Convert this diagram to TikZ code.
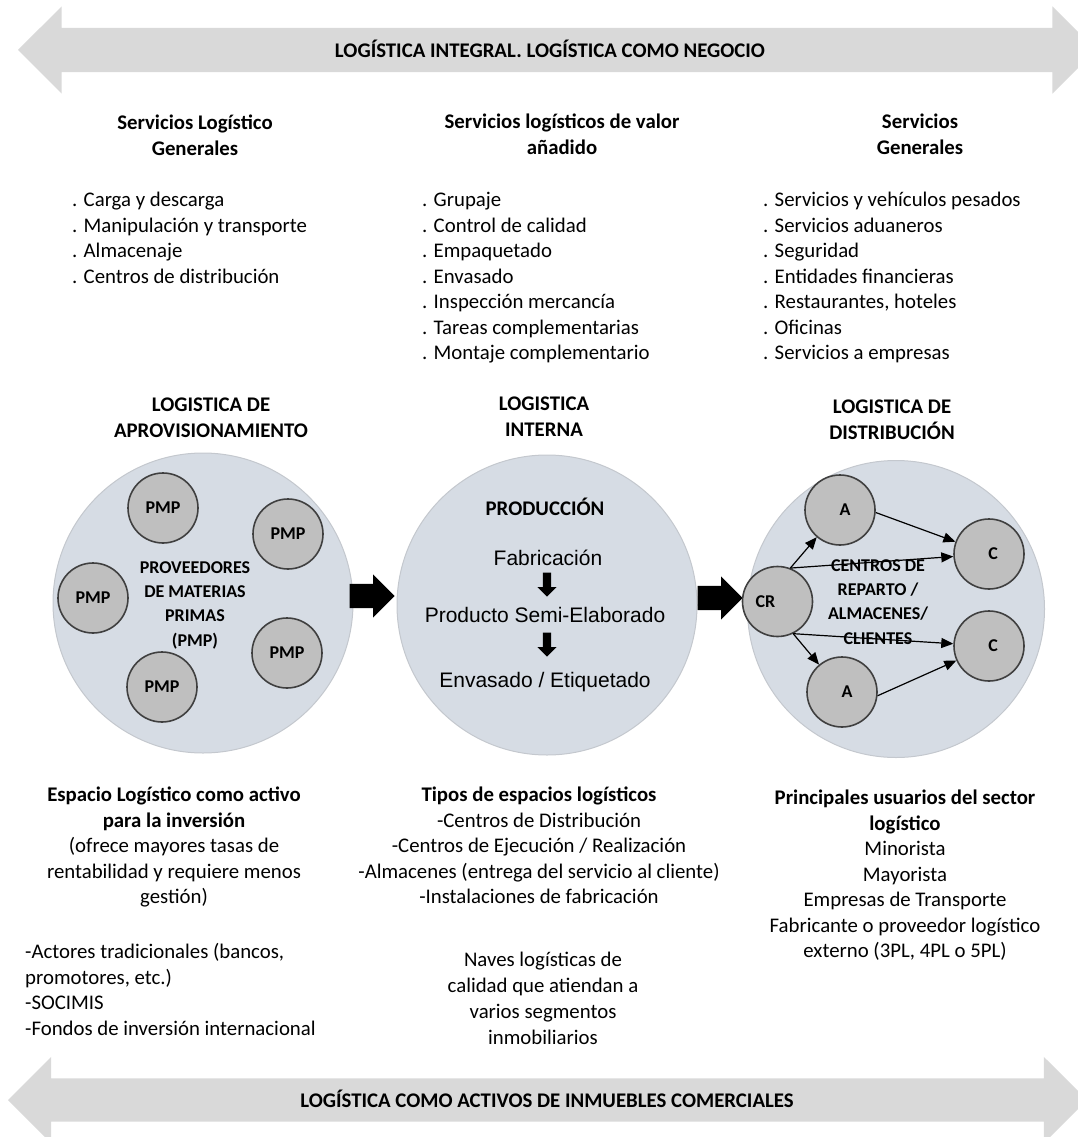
\documentclass[tikz,border=0pt]{standalone}
\usepackage{fontspec}
\setmainfont{Carlito}
\newfontfamily\arialfont{Liberation Sans}
\usetikzlibrary{shapes.arrows}
\usetikzlibrary{arrows.meta}
\definecolor{bandgray}{HTML}{D9D9D9}
\definecolor{zonefill}{HTML}{D6DCE4}
\definecolor{zoneline}{HTML}{C4C8CE}
\definecolor{unitfill}{HTML}{BFBFBF}
\definecolor{unitline}{HTML}{3F3F3F}
\newcommand{\BodyFont}{\fontsize{20.8}{25.5}\selectfont}
\newcommand{\SmallFont}{\fontsize{18}{24.3}\selectfont}
\newcommand{\StageFont}{\arialfont\fontsize{21}{25}\selectfont}

\begin{document}
\begin{tikzpicture}[x=1pt, y=-1pt,
band/.style={double arrow, double arrow head extend=21.5pt, fill=bandgray, inner xsep=0, inner ysep=22pt},
zone/.style={circle, fill=zonefill, draw=zoneline, line width=1pt, minimum size=300pt, inner sep=0},
unit/.style={circle, fill=unitfill, draw=unitline, line width=1.6pt, minimum size=70pt, inner sep=0, font=\SmallFont\bfseries},
block/.style={single arrow, fill=black, inner xsep=0, inner ysep=12pt, minimum height=45pt, single arrow head extend=9.5pt},
downarrow/.style={single arrow, fill=black, inner xsep=4pt, inner ysep=0, shape border rotate=270, minimum height=24pt, single arrow head extend=5.5pt},
heading/.style={inner sep=0, align=center, anchor=north, font=\BodyFont\bfseries},
plain/.style={inner sep=0, align=center, anchor=north, font=\BodyFont},
itemlist/.style={inner sep=0, align=left, anchor=north west, font=\BodyFont},
stage/.style={inner sep=0, anchor=base, font=\StageFont},
flow/.style={-{Triangle[length=12pt,width=10pt]}, line width=1.2pt}]
\useasboundingbox (0,0) rectangle (1078,1137);
\clip (0,0) rectangle (1078,1137);
%%%%%%%%%%%%%%%%%%%%%%% BANDS %%%%%%%%%%%%%%%%%%%%%%%%%%%
\node[band, minimum height=1078pt] (business) at (557,50) {};
\node[inner sep=0, anchor=base, font=\BodyFont\bfseries] (businesstext) at (550,58) {LOGÍSTICA INTEGRAL. LOGÍSTICA COMO NEGOCIO};
\node[band, minimum height=1079pt, inner ysep=21.5pt] (assets) at (547.5,1100) {};
\node[inner sep=0, anchor=base, font=\BodyFont\bfseries] (assetstext) at (547,1107) {LOGÍSTICA COMO ACTIVOS DE INMUEBLES COMERCIALES};
%%%%%%%%%%%%%%%%%%%%%%% SERVICES %%%%%%%%%%%%%%%%%%%%%%%%%%%
\node[heading] (basictitle) at (195,111.5) {\strut Servicios Logístico\\Generales};
\node[itemlist] (basiclist) at (72,188.5) {\strut . Carga y descarga\\. Manipulación y transporte\\. Almacenaje\\. Centros de distribución};
\node[heading] (addedtitle) at (562,110.5) {\strut Servicios logísticos de valor\\añadido};
\node[itemlist] (addedlist) at (422,188.5) {\strut . Grupaje\\. Control de calidad\\. Empaquetado\\. Envasado\\. Inspección mercancía\\. Tareas complementarias\\. Montaje complementario};
\node[heading] (generaltitle) at (920,110.5) {\strut Servicios\\Generales};
\node[itemlist] (generallist) at (763,188.5) {\strut . Servicios y vehículos pesados\\. Servicios aduaneros\\. Seguridad\\. Entidades financieras\\. Restaurantes, hoteles\\. Oficinas\\. Servicios a empresas};
%%%%%%%%%%%%%%%%%%%%%%% ZONES %%%%%%%%%%%%%%%%%%%%%%%%%%%
\node[heading] (supplytitle) at (211,393.5) {\strut LOGISTICA DE\\APROVISIONAMIENTO};
\node[heading] (planttitle) at (544,392.5) {\strut LOGISTICA\\INTERNA};
\node[heading] (disttitle) at (892,395.5) {\strut LOGISTICA DE\\DISTRIBUCIÓN};
\node[zone] (supply) at (203,603) {};
\node[zone] (plant) at (547,605) {};
\node[zone, minimum size=297pt] (dist) at (896,609) {};
% supply side
\node[heading, font=\SmallFont\bfseries] (supplytext) at (195,556) {\strut PROVEEDORES\\DE MATERIAS\\PRIMAS\\(PMP)};
\foreach \px/\py [count=\k] in {163/508, 288/534, 93/598, 287/653, 162/687}
  \node[unit] (pmp\k) at (\px,\py) {PMP};
\node[block, anchor=tip] (intoplant) at (395,596) {};
% production steps
\node[inner sep=0, anchor=base, font=\BodyFont\bfseries] (prodtitle) at (545,515) {PRODUCCIÓN};
\node[stage] (make) at (548,565) {Fabricación};
\node[downarrow, anchor=tip] (stepone) at (547,597) {};
\node[stage] (half) at (545,622) {Producto Semi-Elaborado};
\node[downarrow, anchor=tip] (steptwo) at (547,657) {};
\node[stage] (pack) at (545,687) {Envasado / Etiquetado};
\node[block, anchor=tip] (intodist) at (743,598) {};
% distribution network
\node[heading, font=\SmallFont\bfseries] (disttext) at (878,554) {\strut CENTROS DE\\REPARTO /\\ALMACENES/\\CLIENTES};
\node[unit] (cr) at (777.5,601.5) {CR\hspace*{24pt}};
\node[unit] (atop) at (840,510) {\hspace*{10pt}A};
\node[unit] (ctop) at (989,554) {\hspace*{8pt}C};
\node[unit] (cbot) at (989,646) {\hspace*{8pt}C};
\node[unit] (abot) at (842,692) {\hspace*{10pt}A};
\draw[flow] (cr.69) -- (atop);
\draw[flow] (cr.69) -- (ctop);
\draw[flow] (cr.-64) -- (cbot);
\draw[flow] (cr.-64) -- (abot);
\draw[flow] (atop.-4) -- (ctop);
\draw[flow] (abot.-6) -- (cbot);
%%%%%%%%%%%%%%%%%%%%%%% ASSETS %%%%%%%%%%%%%%%%%%%%%%%%%%%
\node[plain] (investtext) at (174,783.5) {\strut\textbf{Espacio Logístico como activo}\\\textbf{para la inversión}\\(ofrece mayores tasas de\\rentabilidad y requiere menos\\gestión)};
\node[itemlist] (investlist) at (25,940.5) {\strut -Actores tradicionales (bancos,\\promotores, etc.)\\-SOCIMIS\\-Fondos de inversión internacional};
\node[plain] (spacetext) at (539,783.5) {\strut\textbf{Tipos de espacios logísticos}\\-Centros de Distribución\\-Centros de Ejecución / Realización\\-Almacenes (entrega del servicio al cliente)\\-Instalaciones de fabricación};
\node[plain, font=\fontsize{20.8}{26}\selectfont] (navetext) at (543,948.5) {\strut Naves logísticas de\\calidad que atiendan a\\varios segmentos\\inmobiliarios};
\node[plain] (usertext) at (905,786.5) {\strut\textbf{Principales usuarios del sector}\\\textbf{logístico}\\Minorista\\Mayorista\\Empresas de Transporte\\Fabricante o proveedor logístico\\externo (3PL, 4PL o 5PL)};
\end{tikzpicture}
\end{document}
